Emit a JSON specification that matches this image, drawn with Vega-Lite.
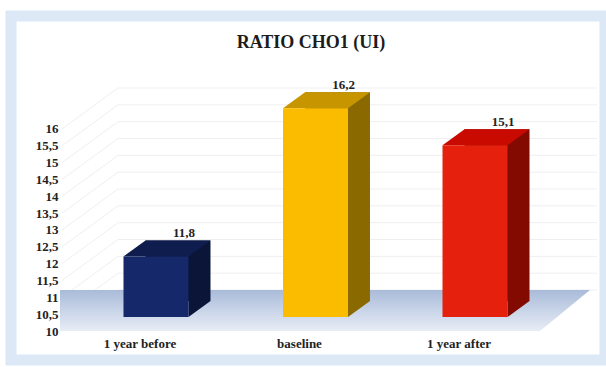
{
  "$schema": "https://vega.github.io/schema/vega-lite/v6.json",
  "autosize": "none",
  "width": 594,
  "height": 344,
  "padding": {"left": 11, "top": 16, "right": 1, "bottom": 7},
  "background": "#ffffff",
  "view": {"fill": "#ffffff", "stroke": "#dce8f6", "strokeWidth": 11},
  "title": {
    "text": "RATIO CHO1 (UI)",
    "font": "Liberation Serif",
    "fontSize": 18,
    "fontWeight": "bold",
    "color": "#1c1c1c",
    "anchor": "middle",
    "dx": 3,
    "offset": -36
  },
  "datasets": {
    "periods": [
      {"period": "1 year before", "value": 11.8},
      {"period": "baseline", "value": 16.2},
      {"period": "1 year after", "value": 15.1}
    ],
    "levels": [
      {"level": 10}, {"level": 10.5}, {"level": 11}, {"level": 11.5}, {"level": 12},
      {"level": 12.5}, {"level": 13}, {"level": 13.5}, {"level": 14}, {"level": 14.5},
      {"level": 15}, {"level": 15.5}, {"level": 16}
    ],
    "floor": [{"period": "baseline", "value": 10}]
  },
  "encoding": {
    "x": {
      "field": "period",
      "type": "nominal",
      "sort": null,
      "scale": {
        "domain": ["1 year before", "baseline", "1 year after"],
        "range": [65.25, 543.75],
        "paddingInner": 0.5925,
        "paddingOuter": 0.2962
      },
      "axis": {
        "title": null,
        "domain": false,
        "ticks": false,
        "labelAngle": 0,
        "labelPadding": 0,
        "labelOffset": -16,
        "offset": -23,
        "labelFont": "Liberation Serif",
        "labelFontSize": 13,
        "labelFontWeight": "bold",
        "labelColor": "#222222"
      }
    },
    "y": {
      "field": "value",
      "type": "quantitative",
      "scale": {"domain": [8.723, 18.94], "nice": false, "zero": false},
      "axis": {
        "title": null,
        "domain": false,
        "ticks": false,
        "grid": false,
        "values": [10, 10.5, 11, 11.5, 12, 12.5, 13, 13.5, 14, 14.5, 15, 15.5, 16],
        "labelExpr": "replace(toString(datum.value), '.', ',')",
        "labelPadding": 0,
        "labelOffset": 14,
        "offset": -47,
        "labelFont": "Liberation Serif",
        "labelFontSize": 13,
        "labelFontWeight": "bold",
        "labelColor": "#222222"
      }
    }
  },
  "layer": [
    {
      "data": {"name": "levels"},
      "mark": {
        "type": "point",
        "filled": false,
        "opacity": 1,
        "size": 4,
        "stroke": "#efefef",
        "strokeWidth": 1,
        "shape": "M-253.5,14 L-197.5,-27 L281.5,-27"
      },
      "encoding": {
        "x": {"datum": "baseline"},
        "y": {"field": "level", "type": "quantitative"}
      }
    },
    {
      "data": {"name": "floor"},
      "mark": {
        "type": "point",
        "filled": true,
        "opacity": 1,
        "size": 4,
        "shape": "M-255.5,-27 L274.5,-27 L224.5,14 L-255.5,14 Z",
        "fill": {
          "x1": 0, "y1": 0, "x2": 0, "y2": 1,
          "gradient": "linear",
          "stops": [
            {"offset": 0, "color": "#a9bbd9"},
            {"offset": 1, "color": "#e8edf6"}
          ]
        }
      }
    },
    {
      "data": {"name": "periods"},
      "layer": [
        {
          "mark": {"type": "bar", "xOffset": 22, "x2Offset": 22, "yOffset": -16, "y2Offset": -16},
          "encoding": {
            "y2": {"datum": 10},
            "color": {
              "field": "period", "type": "nominal", "legend": null,
              "scale": {"domain": ["1 year before", "baseline", "1 year after"], "range": ["#0a1538", "#8a6a00", "#820a00"]}
            }
          }
        },
        {
          "mark": {"type": "point", "filled": true, "opacity": 1, "size": 4, "shape": "M32.5,0 L54.5,-16 L32.5,-16 Z"},
          "encoding": {
            "y": {"datum": 10},
            "fill": {
              "field": "period", "type": "nominal", "legend": null,
              "scale": {"domain": ["1 year before", "baseline", "1 year after"], "range": ["#0a1538", "#8a6a00", "#820a00"]}
            }
          }
        },
        {
          "mark": {"type": "point", "filled": true, "opacity": 1, "size": 4, "shape": "M-32.5,0 L32.5,0 L54.5,-16 L-10.5,-16 Z"},
          "encoding": {
            "fill": {
              "field": "period", "type": "nominal", "legend": null,
              "scale": {"domain": ["1 year before", "baseline", "1 year after"], "range": ["#0e1d4d", "#c69500", "#c80a00"]}
            }
          }
        },
        {
          "mark": {"type": "bar"},
          "encoding": {
            "y2": {"datum": 10},
            "color": {
              "field": "period", "type": "nominal", "legend": null,
              "scale": {"domain": ["1 year before", "baseline", "1 year after"], "range": ["#14286a", "#fbbc00", "#e5200c"]}
            }
          }
        },
        {
          "mark": {
            "type": "text",
            "dx": 28,
            "dy": -23,
            "font": "Liberation Serif",
            "fontSize": 13,
            "fontWeight": "bold",
            "color": "#222222",
            "text": {"expr": "replace(format(datum.value, '.1f'), '.', ',')"}
          }
        }
      ],
      "resolve": {"scale": {"color": "independent", "fill": "independent"}}
    }
  ],
  "resolve": {"scale": {"color": "independent", "fill": "independent"}}
}
